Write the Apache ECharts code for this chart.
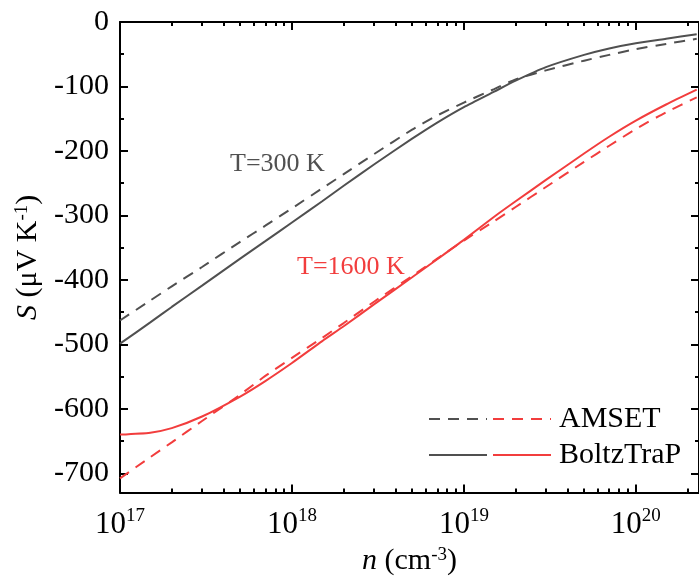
<!DOCTYPE html>
<html>
<head>
<meta charset="utf-8">
<script src="https://cdn.jsdelivr.net/npm/echarts@6/dist/echarts.min.js"></script>
<style>
  html, body { margin: 0; padding: 0; background: #fff; }
  #chart { width: 699px; height: 581px; }
</style>
</head>
<body>
<div id="chart"></div>
<script>
// Carrier concentration n (cm^-3)
const nValues = [1.0e17, 1.5e17, 2e17, 3e17, 5e17, 7e17, 1e18, 1.5e18, 2e18, 3e18, 5e18, 7e18,
                 1e19, 1.5e19, 2e19, 3e19, 5e19, 7e19, 1e20, 1.5e20, 2.26e20];

// Seebeck coefficient S (uV/K)
const amset300 = [-463, -432, -410, -380, -341, -316, -289, -258, -236, -205, -167, -145,
                  -125, -104, -89, -75, -60, -51, -42, -34, -26];
const boltz300 = [-499, -466, -442, -409, -367, -340, -311, -278, -254, -221, -181, -156,
                  -132, -108, -91, -70, -51, -41, -33, -26, -19];
const amset1600 = [-708, -675, -652, -619, -578, -549, -521, -490, -467, -434, -394, -367,
                   -339, -309, -287, -256, -217, -192, -166, -140, -117];
const boltz1600 = [-640, -637, -630, -612, -581, -557, -529, -495, -472, -438, -396, -368,
                   -338, -302, -278, -245, -204, -178, -153, -128, -105];

// Axis ticks
const xMajorTicks = [1e17, 1e18, 1e19, 1e20];
const xMinorTicks = [2e17, 3e17, 4e17, 5e17, 6e17, 7e17, 8e17, 9e17,
                     2e18, 3e18, 4e18, 5e18, 6e18, 7e18, 8e18, 9e18,
                     2e19, 3e19, 4e19, 5e19, 6e19, 7e19, 8e19, 9e19, 2e20];
const yMajorTicks = [-700, -600, -500, -400, -300, -200, -100, 0];
const yMinorTicks = [-650, -550, -450, -350, -250, -150, -50];

const X_MIN = 1e17, X_MAX = 2.33e20, Y_MIN = -730, Y_MAX = 0;

const GREY = '#505050';
const RED = '#f23d3d';
const FONT = '"Liberation Serif", "Times New Roman", serif';
const DASH = [11, 8];

const chart = echarts.init(document.getElementById('chart'), null, { renderer: 'canvas' });

function pairs(ys) { return nValues.map((n, i) => [n, ys[i]]); }

function xAxisDef(pos, showLabels, ticks, len, showLine) {
  return {
    type: 'log', logBase: 10, min: X_MIN, max: X_MAX, position: pos,
    axisLine: { show: showLine, onZero: false, lineStyle: { color: '#000', width: 2 } },
    axisTick: { show: true, inside: true, length: len, customValues: ticks,
                lineStyle: { color: '#000', width: 2 } },
    axisLabel: showLabels ? {
      show: true, customValues: ticks, margin: 14,
      formatter: v => '{b|10}{s|' + Math.round(Math.log10(v)) + '}',
      rich: {
        b: { fontFamily: FONT, fontSize: 31, color: '#000', verticalAlign: 'bottom', lineHeight: 34 },
        s: { fontFamily: FONT, fontSize: 19, color: '#000', verticalAlign: 'top', lineHeight: 34, padding: [0, 0, 12, 0] }
      }
    } : { show: false },
    splitLine: { show: false }, minorTick: { show: false }
  };
}

function yAxisDef(pos, showLabels, ticks, len, showLine) {
  return {
    type: 'value', min: Y_MIN, max: Y_MAX, position: pos,
    axisLine: { show: showLine, onZero: false, lineStyle: { color: '#000', width: 2 } },
    axisTick: { show: true, inside: true, length: len, customValues: ticks,
                lineStyle: { color: '#000', width: 2 } },
    axisLabel: showLabels ? {
      show: true, customValues: ticks, margin: 11,
      fontFamily: FONT, fontSize: 30, color: '#000'
    } : { show: false },
    splitLine: { show: false }
  };
}

const xAxes = [
  Object.assign(xAxisDef('bottom', true, xMajorTicks, 8, true), {
    name: '{i|n} (cm{s|-3})', nameLocation: 'middle', nameGap: 51,
    nameTextStyle: {
      fontFamily: FONT, fontSize: 30, color: '#000',
      rich: {
        i: { fontFamily: FONT, fontSize: 30, fontStyle: 'italic', color: '#000' },
        s: { fontFamily: FONT, fontSize: 19, color: '#000', verticalAlign: 'top', padding: [0, 0, 12, 0] }
      }
    }
  }),
  xAxisDef('top', false, xMajorTicks, 8, true),
  xAxisDef('bottom', false, xMinorTicks, 4, false),
  xAxisDef('top', false, xMinorTicks, 4, false)
];

const yAxes = [
  Object.assign(yAxisDef('left', true, yMajorTicks, 8, true), {
    name: '{i|S} (μV K{s|-1})', nameLocation: 'middle', nameGap: 72,
    nameTextStyle: {
      fontFamily: FONT, fontSize: 30, color: '#000',
      rich: {
        i: { fontFamily: FONT, fontSize: 30, fontStyle: 'italic', color: '#000' },
        s: { fontFamily: FONT, fontSize: 19, color: '#000', verticalAlign: 'top', padding: [0, 0, 12, 0] }
      }
    }
  }),
  yAxisDef('right', false, yMajorTicks, 8, true),
  yAxisDef('left', false, yMinorTicks, 4, false),
  yAxisDef('right', false, yMinorTicks, 4, false)
];

function lineSeries(name, data, color, dashed) {
  return {
    name: name, type: 'line', data: pairs(data),
    xAxisIndex: 0, yAxisIndex: 0,
    symbol: 'none', smooth: 0.2,
    lineStyle: { color: color, width: 2, type: dashed ? DASH : 'solid' },
    itemStyle: { color: color },
    emphasis: { disabled: true }, silent: true, animation: false
  };
}

const legendText = { fontFamily: FONT, fontSize: 30, color: '#000', lineHeight: 30 };
// legend keys show only the line stroke, no point marker
const legendMarker = { opacity: 0, color: 'rgba(0,0,0,0)', borderWidth: 0 };

chart.setOption({
  animation: false,
  grid: { left: 120, top: 22, width: 582, height: 472, containLabel: false },
  xAxis: xAxes,
  yAxis: yAxes,
  legend: [
    {
      data: ['AMSET 300 K', 'BoltzTraP 300 K'], orient: 'vertical',
      left: 423, top: 399, itemWidth: 58, itemHeight: 14, itemGap: 6,
      selectedMode: false, formatter: () => ' ', textStyle: legendText,
      itemStyle: legendMarker
    },
    {
      data: ['AMSET', 'BoltzTraP'], orient: 'vertical',
      left: 487, top: 399, itemWidth: 58, itemHeight: 14, itemGap: 6,
      selectedMode: false, textStyle: Object.assign({ padding: [0, 0, 0, 3] }, legendText),
      itemStyle: legendMarker
    }
  ],
  graphic: [
    { type: 'text', left: 230, top: 151, silent: true,
      style: { text: 'T=300 K', fill: GREY, font: '26px ' + FONT } },
    { type: 'text', left: 297, top: 254, silent: true,
      style: { text: 'T=1600 K', fill: RED, font: '26px ' + FONT } }
  ],
  series: [
    lineSeries('AMSET 300 K', amset300, GREY, true),
    lineSeries('BoltzTraP 300 K', boltz300, GREY, false),
    lineSeries('AMSET', amset1600, RED, true),
    lineSeries('BoltzTraP', boltz1600, RED, false)
  ]
});
</script>
</body>
</html>
